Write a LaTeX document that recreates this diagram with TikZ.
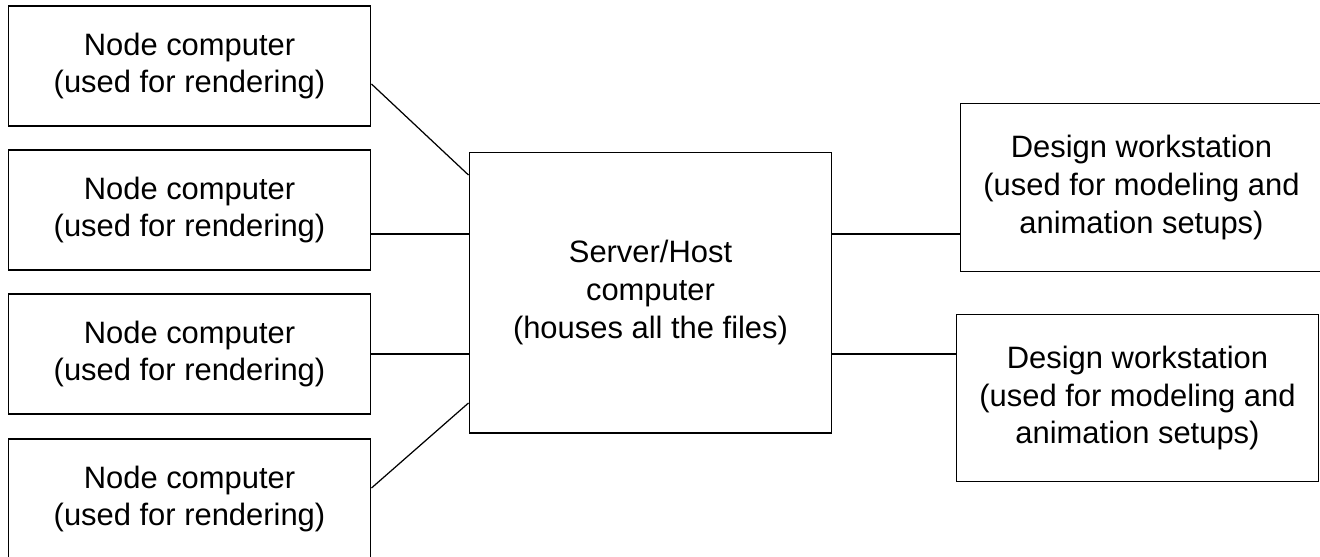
\documentclass[tikz,border=0pt]{standalone}
\usepackage{fontspec}
\setmainfont{Liberation Sans}
\usepackage{tikz}

\begin{document}
\begin{tikzpicture}[x=0.02cm, y=-0.02cm,
    box/.style={draw, line width=0.6pt, align=center, inner sep=0pt,
                font=\fontsize{17.6}{21.5}\selectfont},
    nodebox/.style={box, minimum width=7.26cm, minimum height=2.4cm},
    designbox/.style={box, minimum width=7.24cm, minimum height=3.35cm},
    link/.style={line width=0.7pt},
    bus/.style={line width=1.6pt}]
    \useasboundingbox (0, 0) rectangle (1320, 556);

    \node (nc1) at (189.5, 66) [nodebox] {Node computer\\(used for rendering)};
    \node (nc2) at (189.5, 210) [nodebox] {Node computer\\(used for rendering)};
    \node (nc3) at (189.5, 354) [nodebox] {Node computer\\(used for rendering)};
    \node (nc4) at (189.5, 499) [nodebox] {Node computer\\(used for rendering)};

    \node (server) at (650.5, 292.5) [box, minimum width=7.26cm, minimum height=5.62cm]
        {Server/Host\\computer\\(houses all the files)};

    \node (dw1) at (1141.5, 187.5) [designbox] {Design workstation\\(used for modeling and\\animation setups)};
    \node (dw2) at (1137.5, 398) [designbox] {Design workstation\\(used for modeling and\\animation setups)};

    % points on the server sides
    \coordinate (sw1) at ([yshift=2.35cm]server.west);
    \coordinate (sw2) at ([yshift=1.17cm]server.west);
    \coordinate (sw3) at ([yshift=-1.23cm]server.west);
    \coordinate (sw4) at ([yshift=-2.21cm]server.west);
    \coordinate (se1) at ([yshift=1.17cm]server.east);
    \coordinate (se2) at ([yshift=-1.23cm]server.east);

    \draw[link] ([yshift=-0.36cm]nc1.east) -- (sw1);
    \draw[bus] (nc2.east |- sw2) -- (sw2);
    \draw[bus] (nc3.east |- sw3) -- (sw3);
    \draw[link] ([yshift=0.22cm]nc4.east) -- (sw4);

    \draw[bus] (se1) -- (dw1.west |- se1);
    \draw[bus] (se2) -- (dw2.west |- se2);
\end{tikzpicture}
\end{document}
